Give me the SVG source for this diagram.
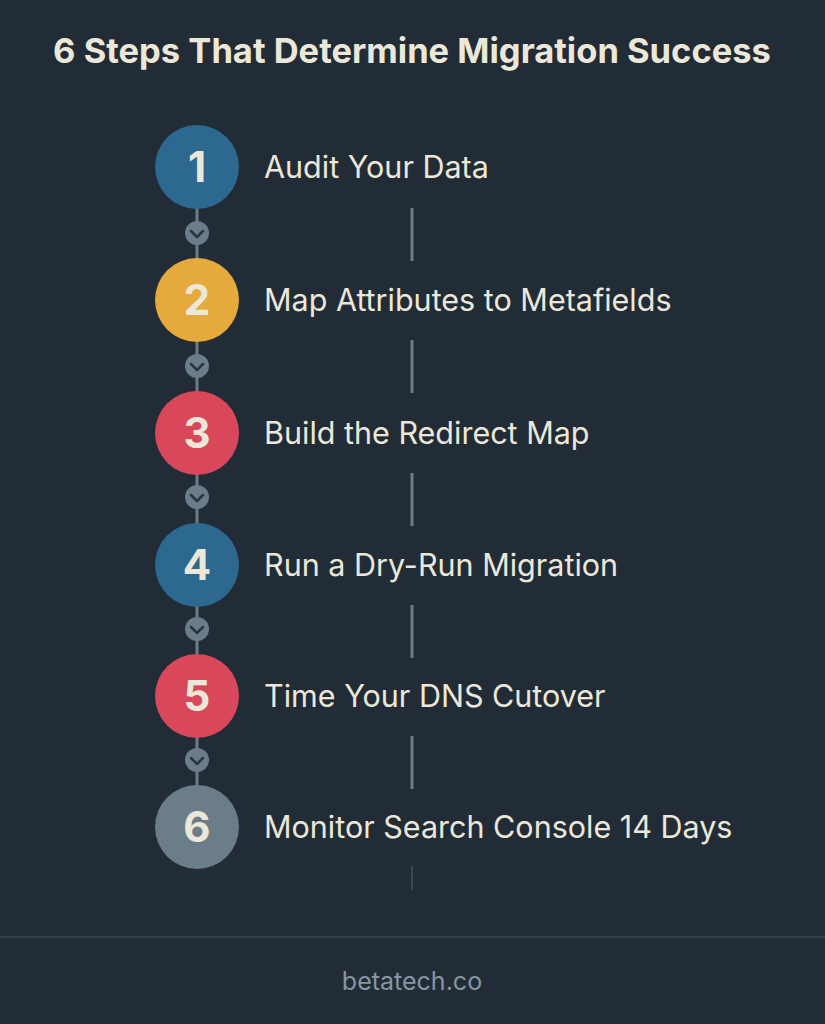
<svg xmlns="http://www.w3.org/2000/svg" width="825" height="1024" viewBox="0 0 825 1024">
<style>
.bg{fill:#222c37}
.title{font-family:"Inter","Liberation Sans",sans-serif;font-weight:700;font-size:34.5px;fill:#ece8d9;text-anchor:middle}
.lbl{font-family:"Inter","Liberation Sans",sans-serif;font-size:30.5px;fill:#ece8d9}
.num{font-family:"Inter","Liberation Sans",sans-serif;font-weight:700;font-size:42px;fill:#ece8d9;text-anchor:middle}
.spine{stroke:#6b7d8a;stroke-width:3}
.chev{fill:#6b7d8a}
.chevp{fill:none;stroke:#2a3540;stroke-width:2.5;stroke-linecap:round;stroke-linejoin:round}
.bar{stroke:#6b7d8a;stroke-width:3}
.foot{font-family:"Inter","Liberation Sans",sans-serif;font-size:25px;fill:#8796a2;text-anchor:middle}
</style>
<rect class="bg" x="0" y="0" width="825" height="1024"/>
<text class="title" x="412" y="63">6 Steps That Determine Migration Success</text>
<g id="connectors">
<line class="spine" x1="197" y1="167" x2="197" y2="827"/>
<line class="bar" x1="412" y1="208" x2="412" y2="261"/>
<line class="bar" x1="412" y1="340" x2="412" y2="393"/>
<line class="bar" x1="412" y1="473" x2="412" y2="526"/>
<line class="bar" x1="412" y1="605" x2="412" y2="658"/>
<line class="bar" x1="412" y1="736" x2="412" y2="789"/>
<line x1="412" y1="866" x2="412" y2="890" stroke="#3a4653" stroke-width="2"/>
<g><circle class="chev" cx="197" cy="233" r="12"/><path class="chevp" d="M191 231 L197 237 L203 231"/></g>
<g><circle class="chev" cx="197" cy="366" r="12"/><path class="chevp" d="M191 364 L197 370 L203 364"/></g>
<g><circle class="chev" cx="197" cy="497" r="12"/><path class="chevp" d="M191 495 L197 501 L203 495"/></g>
<g><circle class="chev" cx="197" cy="629" r="12"/><path class="chevp" d="M191 627 L197 633 L203 627"/></g>
<g><circle class="chev" cx="197" cy="760" r="12"/><path class="chevp" d="M191 758 L197 764 L203 758"/></g>
</g>
<g id="step1"><circle cx="197" cy="167" r="42" fill="#2d6890"/><text class="num" x="197" y="182">1</text><text class="lbl" x="264" y="178">Audit Your Data</text></g>
<g id="step2"><circle cx="197" cy="300" r="42" fill="#e6a93c"/><text class="num" x="197" y="315">2</text><text class="lbl" x="264" y="311">Map Attributes to Metafields</text></g>
<g id="step3"><circle cx="197" cy="433" r="42" fill="#d9475b"/><text class="num" x="197" y="448">3</text><text class="lbl" x="264" y="444">Build the Redirect Map</text></g>
<g id="step4"><circle cx="197" cy="565" r="42" fill="#2d6890"/><text class="num" x="197" y="580">4</text><text class="lbl" x="264" y="576">Run a Dry-Run Migration</text></g>
<g id="step5"><circle cx="197" cy="696" r="42" fill="#d9475b"/><text class="num" x="197" y="711">5</text><text class="lbl" x="264" y="707">Time Your DNS Cutover</text></g>
<g id="step6"><circle cx="197" cy="827" r="42" fill="#6b7d89"/><text class="num" x="197" y="842">6</text><text class="lbl" x="264" y="838">Monitor Search Console 14 Days</text></g>
<line x1="0" y1="937" x2="825" y2="937" stroke="#3b4854" stroke-width="1.5"/>
<text class="foot" x="412" y="990">betatech.co</text>
</svg>
